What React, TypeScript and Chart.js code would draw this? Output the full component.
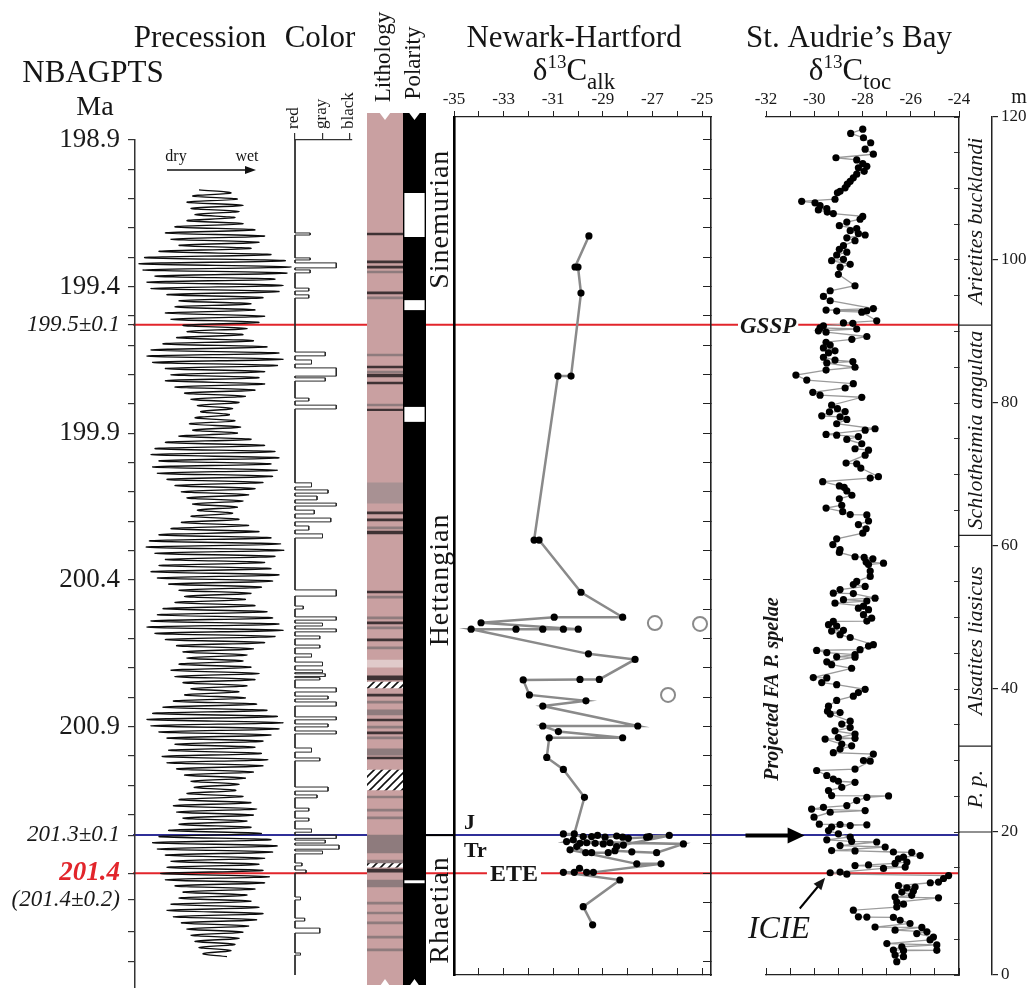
import React, { useEffect, useRef } from "react";
import { Chart, registerables } from "chart.js";

Chart.register(...registerables);

const SERIF = "'Liberation Serif', 'Times New Roman', Times, serif";

/* ============================ DATA ============================ */

// NBAGPTS age axis (Ma)
const maLabelTicks = [198.9, 199.4, 199.9, 200.4, 200.9];
const maMinorTicks = [198.9, 199.0, 199.1, 199.2, 199.3, 199.4, 199.5, 199.6, 199.7, 199.8, 199.9, 200.0, 200.1, 200.2, 200.3, 200.4, 200.5, 200.6, 200.7, 200.8, 200.9, 201.0, 201.1, 201.2, 201.6, 201.7];
const maSpecialTicks = [199.53, 201.27, 201.4, 201.49];
const maSpecialLabels = ["199.5±0.1", "201.3±0.1", "201.4", "(201.4±0.2)"];

// correlation lines (GSSP, J/Tr, ETE)
const boundaryAgeMa = [199.53, 201.27, 201.4];
const boundaryDepthM = [90.9, 19.5, 14.3];
const boundaryColor = ["#e2252b", "#2f2f98", "#e2252b"];

// precession (amplitude per cycle, normalised)
const precessionStartMa = 199.07;
const precessionStepMa = 0.021;
const precessionAmp = [
  0.2, 0.28, 0.35, 0.3, 0.25,
  0.35, 0.5, 0.62, 0.55, 0.45,
  0.7, 0.88, 0.95, 0.9, 0.75,
  0.85, 0.8, 0.6, 0.45, 0.5,
  0.62, 0.55, 0.4, 0.35, 0.48,
  0.65, 0.8, 0.85, 0.78, 0.62,
  0.55, 0.62, 0.5, 0.38, 0.3,
  0.22, 0.18, 0.25, 0.32, 0.28,
  0.45, 0.62, 0.75, 0.8, 0.7,
  0.78, 0.72, 0.6, 0.5, 0.42,
  0.35, 0.28, 0.22, 0.3, 0.42,
  0.55, 0.7, 0.82, 0.86, 0.75,
  0.62, 0.7, 0.8, 0.72, 0.58,
  0.45, 0.38, 0.5, 0.65, 0.72,
  0.8, 0.85, 0.75, 0.62, 0.48,
  0.4, 0.35, 0.45, 0.55, 0.5,
  0.4, 0.3, 0.38, 0.52, 0.65,
  0.78, 0.85, 0.8, 0.7, 0.6,
  0.5, 0.58, 0.66, 0.6, 0.48,
  0.38, 0.3, 0.26, 0.35, 0.45,
  0.52, 0.48, 0.4, 0.45, 0.58,
  0.7, 0.78, 0.72, 0.62, 0.55,
  0.6, 0.68, 0.62, 0.5, 0.4,
  0.45, 0.55, 0.6, 0.52, 0.42,
  0.35, 0.3, 0.25, 0.2, 0.15,
];

// colour index (0 red, 1 gray, 2 black): [topMa, bottomMa, value]
const colorLevels = ["red", "gray", "black"];
const colorPulses = [
  [199.217, 199.224, 0.55], [199.302, 199.309, 0.55], [199.319, 199.336, 1.5], [199.343, 199.353, 0.55],
  [199.405, 199.415, 0.5], [199.428, 199.439, 0.5], [199.623, 199.636, 1.1], [199.65, 199.664, 0.6],
  [199.677, 199.705, 1.5], [199.711, 199.722, 1.1], [199.78, 199.79, 0.5], [199.804, 199.817, 1.5],
  [200.069, 200.083, 0.6], [200.093, 200.104, 1.2], [200.114, 200.127, 0.8], [200.138, 200.148, 1.5],
  [200.162, 200.175, 0.7], [200.189, 200.202, 1.3], [200.216, 200.23, 0.5], [200.243, 200.257, 1.0],
  [200.434, 200.455, 1.5], [200.489, 200.499, 0.3], [200.526, 200.537, 1.5], [200.547, 200.557, 1.0],
  [200.567, 200.577, 1.5], [200.591, 200.601, 0.9], [200.622, 200.632, 0.9], [200.652, 200.663, 0.6],
  [200.68, 200.693, 1.0], [200.707, 200.716, 1.0], [200.72, 200.729, 1.1], [200.733, 200.741, 0.9],
  [200.768, 200.782, 1.5], [200.796, 200.806, 1.2], [200.816, 200.83, 1.5], [200.867, 200.877, 1.5],
  [200.891, 200.901, 1.2], [200.915, 200.925, 1.5], [200.973, 200.987, 0.6], [201.007, 201.017, 0.9],
  [201.106, 201.12, 1.2], [201.133, 201.143, 0.8], [201.178, 201.188, 0.5], [201.212, 201.222, 0.5],
  [201.249, 201.26, 0.6], [201.27, 201.281, 1.5], [201.287, 201.297, 1.1], [201.304, 201.318, 1.6],
  [201.324, 201.334, 1.0], [201.365, 201.375, 0.25], [201.389, 201.399, 0.4], [201.481, 201.491, 0.2],
  [201.553, 201.563, 0.35], [201.587, 201.604, 0.9], [201.672, 201.679, 0.2],
];

// lithology bands: [topMa, bottomMa, type] d=dark, g=gray, m=medium, l=light, h=hatched
const lithologyBands = [
  [199.217, 199.224, "d"], [199.312, 199.319, "d"], [199.33, 199.337, "d"], [199.347, 199.353, "g"],
  [199.418, 199.425, "d"], [199.435, 199.442, "g"], [199.63, 199.636, "g"], [199.671, 199.677, "d"],
  [199.688, 199.694, "g"], [199.698, 199.708, "d"], [199.725, 199.732, "d"], [199.8, 199.807, "g"],
  [199.817, 199.823, "d"], [200.069, 200.138, "m"], [200.1, 200.107, "d"], [200.127, 200.134, "d"],
  [200.168, 200.175, "d"], [200.192, 200.199, "d"], [200.219, 200.226, "g"], [200.233, 200.243, "d"],
  [200.438, 200.444, "d"], [200.455, 200.462, "g"], [200.526, 200.533, "g"], [200.543, 200.55, "d"],
  [200.56, 200.567, "g"], [200.601, 200.608, "d"], [200.628, 200.635, "g"], [200.673, 200.697, "l"],
  [200.727, 200.741, "d"], [200.748, 200.768, "h"], [200.789, 200.796, "d"], [200.813, 200.82, "g"],
  [200.843, 200.86, "g"], [200.874, 200.881, "d"], [200.898, 200.905, "g"], [200.918, 200.925, "d"],
  [200.935, 200.942, "g"], [200.976, 200.997, "g"], [201.004, 201.01, "d"], [201.048, 201.116, "h"],
  [201.137, 201.143, "g"], [201.181, 201.188, "g"], [201.208, 201.215, "g"], [201.27, 201.331, "g"],
  [201.273, 201.28, "d"], [201.29, 201.297, "d"], [201.307, 201.32, "d"], [201.355, 201.365, "g"],
  [201.365, 201.379, "h"], [201.386, 201.396, "d"], [201.423, 201.447, "g"], [201.498, 201.505, "g"],
  [201.532, 201.539, "g"], [201.566, 201.573, "g"], [201.614, 201.621, "g"], [201.658, 201.665, "g"],
];

// polarity: normal (white) intervals within reversed (black) column
const polarityNormal = [
  [199.081, 199.231], [199.446, 199.48], [199.81, 199.861], [201.424, 201.434],
];

// stages
const stageNames = ["Sinemurian", "Hettangian", "Rhaetian"];
const stageAgeMa = [[198.81, 199.53], [199.53, 201.27], [201.27, 201.78]];

// Newark-Hartford d13C alk: [d13C, age Ma]
const nhSeries = [
  [-29.56, 199.227], [-30.12, 199.333], [-30.0, 199.333], [-29.88, 199.422], [-30.28, 199.705],
  [-30.81, 199.705], [-31.77, 200.264], [-31.57, 200.264], [-29.88, 200.442], [-28.2, 200.527],
  [-30.96, 200.527], [-33.91, 200.546], [-29.99, 200.568], [-30.59, 200.568], [-31.42, 200.568],
  [-32.5, 200.568], [-34.31, 200.568], [-29.58, 200.652], [-27.7, 200.671], [-29.14, 200.739],
  [-29.92, 200.739], [-32.21, 200.741], [-31.96, 200.792], [-29.68, 200.812], [-31.42, 200.83],
  [-27.59, 200.898], [-31.42, 200.898], [-30.79, 200.917], [-28.2, 200.938], [-31.16, 200.938],
  [-31.26, 201.005], [-30.59, 201.046], [-29.74, 201.141], [-30.15, 201.266], [-30.59, 201.266],
  [-29.79, 201.275], [-29.45, 201.275], [-29.21, 201.271], [-28.91, 201.277], [-28.44, 201.273],
  [-28.2, 201.277], [-27.97, 201.281], [-27.23, 201.277], [-27.12, 201.275], [-26.32, 201.271],
  [-28.17, 201.304], [-28.44, 201.309], [-28.71, 201.296], [-28.98, 201.3], [-29.31, 201.298],
  [-29.65, 201.296], [-29.92, 201.298], [-30.19, 201.286], [-30.46, 201.292], [-25.75, 201.3],
  [-26.83, 201.33], [-27.83, 201.327], [-28.51, 201.323], [-28.78, 201.33], [-29.45, 201.33],
  [-29.69, 201.33], [-30.05, 201.309], [-30.32, 201.32], [-27.63, 201.368], [-26.65, 201.368],
  [-29.38, 201.397], [-29.65, 201.397], [-29.94, 201.383], [-30.15, 201.397], [-30.59, 201.397],
  [-28.31, 201.423], [-29.79, 201.514], [-29.41, 201.576],
];
const nhOutliers = [[-26.9, 200.547], [-25.08, 200.55], [-26.37, 200.792]];

// St Audrie's Bay d13C toc: [depth m, d13C]
const sabSeries = [
  [118.3, -27.99], [117.7, -28.49], [117.1, -27.96], [116.4, -27.66], [115.5, -27.89], [114.8, -27.55],
  [114.3, -29.1], [114.0, -28.24], [113.5, -27.99], [113.1, -27.82], [112.9, -28.17], [112.4, -27.93],
  [112.0, -28.24], [111.5, -28.38], [111.0, -28.51], [110.6, -28.63], [110.1, -28.72], [109.6, -28.93],
  [109.4, -29.04], [108.5, -29.14], [108.2, -30.52], [108.0, -29.97], [107.6, -29.76], [107.2, -29.48],
  [107.0, -29.83], [106.7, -29.46], [106.5, -29.21], [106.1, -27.99], [105.7, -28.1], [105.3, -28.65],
  [104.8, -28.96], [104.4, -28.24], [104.1, -28.51], [103.7, -28.17], [103.5, -27.89], [103.1, -28.65],
  [102.7, -28.31], [102.0, -28.79], [101.5, -28.96], [101.1, -28.65], [100.7, -29.07], [100.1, -28.79],
  [99.9, -29.28], [99.4, -28.51], [99.0, -28.93], [98.0, -29.0], [96.4, -28.31], [95.7, -29.34],
  [94.9, -29.62], [94.3, -29.34], [93.2, -27.55], [93.0, -29.51], [92.9, -27.82], [92.85, -29.07],
  [92.7, -28.03], [91.5, -27.41], [91.2, -28.79], [91.15, -28.4], [90.8, -29.62], [90.5, -29.76],
  [90.35, -28.24], [90.1, -29.83], [89.9, -29.51], [89.3, -27.82], [88.9, -28.44], [88.5, -29.51],
  [88.1, -29.34], [87.7, -29.62], [87.3, -29.14], [87.0, -29.41], [86.4, -29.62], [86.0, -29.14],
  [85.8, -28.4], [85.6, -29.48], [85.0, -28.31], [84.6, -29.51], [83.9, -30.76], [83.2, -30.31],
  [82.7, -28.38], [82.1, -28.72], [81.5, -30.06], [81.1, -29.76], [80.8, -28.03], [79.7, -29.28],
  [79.2, -29.04], [78.8, -28.72], [78.75, -29.37], [78.2, -29.69], [78.05, -28.93], [77.7, -28.65],
  [77.1, -29.07], [76.4, -27.48], [76.2, -27.89], [75.6, -29.51], [75.5, -29.07], [75.3, -28.17],
  [74.9, -28.65], [74.3, -28.03], [73.6, -28.31], [73.4, -27.75], [72.7, -27.89], [71.6, -28.68],
  [71.5, -28.24], [70.9, -28.07], [69.7, -27.34], [69.5, -27.68], [69.0, -29.65], [68.4, -28.96],
  [68.2, -28.76], [67.7, -28.65], [67.1, -28.44], [66.6, -28.96], [65.7, -28.86], [65.3, -29.51],
  [64.8, -28.82], [64.4, -28.51], [64.35, -27.82], [63.5, -27.75], [63.0, -28.17], [62.4, -27.85],
  [61.8, -27.99], [61.0, -29.07], [60.2, -29.23], [59.5, -28.93], [59.1, -28.96], [58.5, -28.31],
  [58.4, -27.93], [58.2, -27.57], [57.75, -27.85], [57.6, -27.13], [57.4, -27.75], [56.5, -27.68],
  [55.75, -27.68], [55.05, -28.24], [54.6, -28.38], [54.35, -27.89], [53.9, -28.93], [53.4, -29.21],
  [53.35, -28.38], [52.7, -27.48], [52.5, -28.79], [52.3, -27.82], [52.0, -29.14], [51.6, -27.96],
  [51.3, -28.17], [51.1, -27.75], [50.4, -27.96], [49.9, -27.62], [49.5, -27.82], [49.45, -29.21],
  [49.0, -29.41], [48.8, -29.07], [48.2, -28.79], [48.1, -29.28], [47.6, -28.93], [47.2, -28.51],
  [46.2, -27.55], [46.0, -27.75], [45.5, -28.1], [45.4, -29.9], [45.1, -29.48], [44.8, -28.31],
  [44.5, -29.07], [44.45, -28.31], [43.8, -29.48], [43.4, -29.28], [42.9, -28.45], [41.6, -30.04],
  [41.55, -29.48], [40.9, -29.69], [40.6, -29.07], [39.95, -27.89], [39.5, -28.17], [39.0, -28.38],
  [38.4, -29.07], [37.6, -29.41], [36.9, -29.45], [36.7, -28.93], [36.5, -29.34], [35.5, -28.51],
  [35.1, -28.86], [34.6, -28.51], [34.15, -29.14], [33.7, -28.31], [33.2, -29.0], [33.1, -28.31],
  [33.0, -29.55], [32.3, -28.86], [32.05, -28.45], [31.6, -28.93], [31.1, -29.21], [30.9, -27.55],
  [30.0, -27.96], [29.9, -27.68], [28.8, -28.31], [28.6, -29.9], [27.9, -29.48], [27.4, -29.21],
  [27.1, -29.0], [26.95, -28.31], [26.25, -28.86], [25.8, -29.41], [25.1, -29.28], [25.05, -26.92],
  [24.85, -27.82], [24.4, -28.24], [23.7, -28.65], [23.45, -29.62], [23.2, -30.11], [23.0, -27.89],
  [22.76, -29.34], [22.07, -30.01], [21.1, -29.79], [21.05, -28.93], [21.0, -27.82], [20.9, -28.51],
  [20.7, -29.28], [20.2, -29.41], [19.75, -29.0], [19.3, -28.51], [18.9, -29.48], [18.7, -28.45],
  [18.6, -27.41], [18.1, -28.93], [17.9, -27.06], [17.4, -29.28], [17.35, -28.31], [17.2, -26.72],
  [17.15, -25.96], [16.7, -25.61], [16.5, -26.3], [16.26, -26.51], [15.8, -26.16], [15.6, -26.65],
  [15.4, -27.75], [15.3, -28.31], [15.1, -26.23], [14.9, -27.13], [14.4, -28.93], [14.3, -29.34],
  [14.1, -28.65], [13.9, -24.43], [13.5, -24.64], [13.0, -24.85], [12.9, -25.19], [12.5, -26.51],
  [12.3, -25.82], [12.2, -26.16], [11.75, -25.89], [11.6, -26.37], [11.15, -25.96], [10.9, -26.65],
  [10.8, -24.85], [10.2, -26.58], [9.9, -26.3], [9.5, -26.58], [9.06, -28.38], [8.13, -28.17],
  [8.1, -27.82], [8.05, -26.72], [7.66, -26.44], [7.2, -26.03], [6.7, -27.48], [6.65, -25.54],
  [6.27, -26.65], [6.04, -25.33], [5.8, -25.75], [5.3, -25.06], [4.9, -25.2], [4.4, -26.99],
  [4.2, -24.92], [3.95, -26.37], [3.5, -26.72], [3.45, -24.92], [3.4, -26.3], [2.8, -26.65],
  [2.56, -26.3], [1.86, -26.58],
];

// ammonite zones (St Audrie's Bay, m)
const zoneNames = ["Arietites bucklandi", "Schlotheimia angulata", "Alsatites liasicus", "P. p."];
const zoneDepthM = [[90.9, 120], [61.5, 90.9], [32, 61.5], [20, 32]];

/* ============================ LAYOUT ============================ */

const W = 1033;
const H = 988;
const MA0 = 198.9;
const Y_MA0 = 140;
const PX_PER_MA = 293.3;
const maAt = (y: number) => MA0 + (y - Y_MA0) / PX_PER_MA;
const LINE_X0 = 133;
const LINE_X1 = 959;
const NH_PX_PER_UNIT = 24.8;

const LITH_PINK = "#c9a0a1";
const lithColors: any = { d: "#3e3234", g: "#8e7b7d", m: "#a89193", l: "#e0caca" };

const fixed = (size: number) => (s: any) => {
  if (s.isHorizontal()) s.height = size;
  else s.width = size;
  s.paddingLeft = 0;
  s.paddingRight = 0;
  s.paddingTop = 0;
  s.paddingBottom = 0;
};

const baseOptions = (scales: any, padding: any) => ({
  responsive: false,
  maintainAspectRatio: false,
  animation: false,
  events: [],
  layout: { autoPadding: false, padding },
  plugins: { legend: { display: false }, tooltip: { enabled: false } },
  scales,
});

const hiddenLinear = (min: number, max: number, reverse = false, axis = "") => {
  const o: any = { type: "linear", display: false, min, max, reverse };
  if (axis) o.axis = axis;
  return o;
};

const rangeTicks = (a: number, b: number, step: number) => {
  const out: number[] = [];
  const n = Math.round((b - a) / step);
  for (let i = 0; i <= n; i++) out.push(+(a + i * step).toFixed(4));
  return out;
};

function fontStr(size: number, style = "", weight = "") {
  return [style, weight, size + "px", SERIF].filter(Boolean).join(" ");
}
function txt(ctx: any, s: string, x: number, y: number, size: number, align = "left", style = "", weight = "", color = "#151515") {
  ctx.font = fontStr(size, style, weight);
  ctx.textAlign = align;
  ctx.textBaseline = "alphabetic";
  ctx.fillStyle = color;
  ctx.fillText(s, x, y);
}
function vtxt(ctx: any, s: string, cx: number, cy: number, size: number, style = "", weight = "", spacing = 0) {
  ctx.save();
  ctx.translate(cx, cy);
  ctx.rotate(-Math.PI / 2);
  ctx.font = fontStr(size, style, weight);
  if (spacing && "letterSpacing" in ctx) ctx.letterSpacing = spacing + "px";
  ctx.textAlign = "center";
  ctx.textBaseline = "middle";
  ctx.fillStyle = "#151515";
  ctx.fillText(s, 0, 0);
  ctx.restore();
}
function arrowHead(ctx: any, x0: number, y0: number, x1: number, y1: number, len: number, half: number) {
  const a = Math.atan2(y1 - y0, x1 - x0);
  ctx.beginPath();
  ctx.moveTo(x1, y1);
  ctx.lineTo(x1 - len * Math.cos(a) + half * Math.sin(a), y1 - len * Math.sin(a) - half * Math.cos(a));
  ctx.lineTo(x1 - len * Math.cos(a) - half * Math.sin(a), y1 - len * Math.sin(a) + half * Math.cos(a));
  ctx.closePath();
  ctx.fill();
}
function drawDelta(ctx: any, sub: string, cx: number, base: number) {
  const big = fontStr(31), sup = fontStr(19), sm = fontStr(23);
  ctx.font = big; const wd = ctx.measureText("δ").width; const wc = ctx.measureText("C").width;
  ctx.font = sup; const w13 = ctx.measureText("13").width;
  ctx.font = sm; const ws = ctx.measureText(sub).width;
  let x = cx - (wd + w13 + wc + ws) / 2;
  ctx.textAlign = "left"; ctx.fillStyle = "#151515"; ctx.textBaseline = "alphabetic";
  ctx.font = big; ctx.fillText("δ", x, base); x += wd;
  ctx.font = sup; ctx.fillText("13", x, base - 12); x += w13;
  ctx.font = big; ctx.fillText("C", x, base); x += wc;
  ctx.font = sm; ctx.fillText(sub, x, base + 9);
}

/* ============================ PLUGINS ============================ */

const headerPlugin = {
  id: "headers",
  afterDraw(chart: any) {
    const c = chart.ctx;
    c.save();
    txt(c, "Precession", 200, 47, 31, "center");
    txt(c, "Color", 320, 47, 31, "center");
    txt(c, "NBAGPTS", 93, 82, 31, "center");
    txt(c, "Ma", 95, 115, 28, "center");
    vtxt(c, "Lithology", 384, 57, 23);
    vtxt(c, "Polarity", 414, 63, 23);
    txt(c, "Newark-Hartford", 574, 47, 31, "center");
    drawDelta(c, "alk", 574, 80);
    txt(c, "St. Audrie’s Bay", 849, 47, 31, "center");
    drawDelta(c, "toc", 850, 80);
    txt(c, "m", 1019, 103, 20, "center");
    txt(c, "dry", 176, 161, 16, "center");
    txt(c, "wet", 247, 161, 16, "center");
    c.strokeStyle = "#111"; c.fillStyle = "#111"; c.lineWidth = 1.3;
    c.beginPath(); c.moveTo(167, 170); c.lineTo(248, 170); c.stroke();
    arrowHead(c, 167, 170, 256, 170, 11, 4);
    c.restore();
  },
};

const notchPlugin = {
  id: "notch",
  afterDraw(chart: any) {
    const { ctx, chartArea: a } = chart;
    const cx = (a.left + a.right) / 2;
    ctx.save();
    ctx.fillStyle = "#ffffff";
    ctx.beginPath(); ctx.moveTo(cx - 6, a.top - 1); ctx.lineTo(cx + 6, a.top - 1); ctx.lineTo(cx, a.top + 7); ctx.closePath(); ctx.fill();
    ctx.beginPath(); ctx.moveTo(cx - 5, a.bottom + 1); ctx.lineTo(cx + 5, a.bottom + 1); ctx.lineTo(cx, a.bottom - 6); ctx.closePath(); ctx.fill();
    ctx.restore();
  },
};

const stagePlugin = {
  id: "stages",
  afterDraw(chart: any) {
    const { ctx, chartArea: a, scales } = chart;
    const y = scales.y;
    ctx.save();
    stageAgeMa.forEach(([t, b], i) => {
      const cy = (y.getPixelForValue(t) + y.getPixelForValue(b)) / 2;
      vtxt(ctx, stageNames[i], (a.left + a.right) / 2 + 1, cy, 28, "", "", 1);
    });
    const yb = y.getPixelForValue(boundaryAgeMa[1]);
    ctx.strokeStyle = "#000"; ctx.lineWidth = 2;
    ctx.beginPath(); ctx.moveTo(a.left, yb); ctx.lineTo(a.right + 2, yb); ctx.stroke();
    ctx.restore();
  },
};

const nhPlugin = {
  id: "nhLabels",
  afterDraw(chart: any) {
    const { ctx, chartArea: a, scales } = chart;
    const y = scales.y, x = scales.x;
    const yJ = y.getPixelForValue(boundaryAgeMa[1]);
    const yE = y.getPixelForValue(boundaryAgeMa[2]);
    ctx.save();
    txt(ctx, "J", a.left + 10, yJ - 6, 22, "left", "", "bold");
    txt(ctx, "Tr", a.left + 10, yJ + 22, 22, "left", "", "bold");
    ctx.font = fontStr(24, "", "bold");
    const w = ctx.measureText("ETE").width;
    const ex = x.getPixelForValue(-33.55);
    ctx.fillStyle = "#fff";
    ctx.fillRect(ex - 3, yE - 9, w + 6, 18);
    txt(ctx, "ETE", ex, yE + 8, 24, "left", "", "bold");
    ctx.restore();
  },
};

const sabPlugin = {
  id: "sabLabels",
  afterDraw(chart: any) {
    const { ctx, chartArea: a, scales } = chart;
    const m = scales.m, x = scales.x;
    const zx0 = a.right, zx1 = m.left;
    ctx.save();
    ctx.strokeStyle = "#222"; ctx.lineWidth = 1.2;
    zoneDepthM.forEach(([lo, hi], i) => {
      const y0 = m.getPixelForValue(hi), y1 = m.getPixelForValue(lo);
      ctx.beginPath(); ctx.moveTo(zx0, y1); ctx.lineTo(zx1, y1); ctx.stroke();
      vtxt(ctx, zoneNames[i], (zx0 + zx1) / 2 + 1, (y0 + y1) / 2, 22, "italic");
    });
    // GSSP label
    const yG = m.getPixelForValue(boundaryDepthM[0]);
    ctx.font = fontStr(23, "italic", "bold");
    const wG = ctx.measureText("GSSP").width;
    const gx = a.left - 26;
    ctx.fillStyle = "#fff";
    ctx.fillRect(gx - 2, yG - 11, wG + 4, 22);
    txt(ctx, "GSSP", gx, yG + 8, 23, "left", "italic", "bold");
    // Projected FA P. spelae
    vtxt(ctx, "Projected FA P. spelae", x.getPixelForValue(-31.72), m.getPixelForValue(40), 20, "italic", "bold");
    const yJ = m.getPixelForValue(boundaryDepthM[1]);
    const ax0 = x.getPixelForValue(-32.85), ax1 = x.getPixelForValue(-30.4);
    ctx.strokeStyle = "#000"; ctx.fillStyle = "#000"; ctx.lineWidth = 4;
    ctx.beginPath(); ctx.moveTo(ax0, yJ); ctx.lineTo(ax1 - 12, yJ); ctx.stroke();
    arrowHead(ctx, ax0, yJ, ax1, yJ, 17, 8);
    // ICIE
    txt(ctx, "ICIE", x.getPixelForValue(-32.75), m.getPixelForValue(5.2), 32, "left", "italic");
    const ix0 = x.getPixelForValue(-30.6), iy0 = m.getPixelForValue(9.3);
    const ix1 = x.getPixelForValue(-29.55), iy1 = m.getPixelForValue(13.6);
    ctx.lineWidth = 2;
    ctx.beginPath(); ctx.moveTo(ix0, iy0); ctx.lineTo(ix1 - 4, iy1 + 5); ctx.stroke();
    arrowHead(ctx, ix0, iy0, ix1, iy1, 12, 5);
    ctx.restore();
  },
};

/* ============================ TICK HELPERS ============================ */

const maAllTicks = maMinorTicks.concat(maSpecialTicks).sort((p, q) => p - q);
const specialIdx = (v: number) => maSpecialTicks.findIndex((s) => Math.abs(s - v) < 1e-6);
const maTickLabel = (v: any) => {
  const i = specialIdx(v);
  if (i >= 0) return maSpecialLabels[i];
  return maLabelTicks.some((t) => Math.abs(t - v) < 1e-6) ? Number(v).toFixed(1) : "";
};
const maTickFont = (c: any) => {
  const v = c && c.tick ? c.tick.value : 0;
  const i = specialIdx(v);
  if (i === 2) return { family: SERIF, size: 27, style: "italic", weight: "bold" };
  if (i >= 0) return { family: SERIF, size: 23, style: "italic" };
  return { family: SERIF, size: 27 };
};
const maTickColor = (c: any) => (c && c.tick && specialIdx(c.tick.value) === 2 ? "#e2252b" : "#1a1a1a");

const setTicks = (vals: number[]) => (s: any) => {
  s.ticks = vals.filter((v) => v >= Math.min(s.min, s.max) - 1e-9 && v <= Math.max(s.min, s.max) + 1e-9).map((v) => ({ value: v }));
};

/* ============================ CHART CONFIGS ============================ */

function bgConfig() {
  return {
    type: "scatter",
    data: {
      datasets: boundaryAgeMa.map((age, i) => ({
        data: [{ x: LINE_X0, y: age }, { x: LINE_X1, y: age }],
        showLine: true, borderColor: boundaryColor[i], borderWidth: 2, pointRadius: 0,
      })),
    },
    options: baseOptions({ x: hiddenLinear(0, W, false, "x"), y: hiddenLinear(maAt(0), maAt(H), true, "y") }, 0),
    plugins: [headerPlugin],
  };
}

function precessionConfig() {
  const pts: any[] = [];
  precessionAmp.forEach((amp, i) => {
    const t = precessionStartMa + i * precessionStepMa;
    pts.push({ x: -amp, y: t });
    pts.push({ x: amp, y: t + precessionStepMa / 2 });
  });
  return {
    type: "scatter",
    data: { datasets: [{ data: pts, showLine: true, borderColor: "#0d0d0d", borderWidth: 1.35, pointRadius: 0, tension: 0.35 }] },
    options: baseOptions({
      x: hiddenLinear(-1, 1, false, "x"),
      y: {
        type: "linear", axis: "y", position: "left", reverse: true, min: 198.9, max: maAt(988),
        afterFit: fixed(135),
        afterBuildTicks: setTicks(maAllTicks),
        ticks: { autoSkip: false, padding: 8, callback: maTickLabel, font: maTickFont, color: maTickColor },
        grid: { drawOnChartArea: false, tickLength: 7, color: "#333", lineWidth: 1.2 },
        border: { color: "#333", width: 1.5 },
      },
    }, { top: 20, left: 0, right: 0, bottom: 0 }),
  };
}

function colorConfig() {
  const pts: any[] = [{ x: 0, y: 198.9 }];
  colorPulses.forEach(([t, b, v]) => {
    pts.push({ x: 0, y: t }, { x: v, y: t }, { x: v, y: b }, { x: 0, y: b });
  });
  pts.push({ x: 0, y: maAt(975) });
  return {
    type: "scatter",
    data: { datasets: [{ data: pts, showLine: true, borderColor: "#2a2a2a", borderWidth: 1, pointRadius: 0, clip: 4 }] },
    options: baseOptions({
      x: {
        type: "linear", axis: "x", position: "top", min: 0, max: 57 / 27.5,
        afterFit: fixed(70),
        afterBuildTicks: setTicks([0, 1, 2]),
        ticks: { autoSkip: false, minRotation: 90, maxRotation: 90, padding: 4, labelOffset: 19, font: { family: SERIF, size: 17 }, color: "#1a1a1a", callback: (v: any) => colorLevels[Math.round(v)] },
        grid: { drawOnChartArea: false, tickLength: 7, color: "#333", lineWidth: 1.2 },
        border: { color: "#333", width: 1.2 },
      },
      y: hiddenLinear(198.9, maAt(975), true, "y"),
    }, { top: 0, left: 14, right: 8, bottom: 3 }),
  };
}

function columnOptions(top: number, bottom: number) {
  const o: any = baseOptions({ x: { type: "category", display: false }, y: hiddenLinear(maAt(top), maAt(bottom), true, "y") }, 0);
  o.datasets = { bar: { grouped: false, barPercentage: 1, categoryPercentage: 1, borderWidth: 0 } };
  return o;
}

// Chart.js paints dataset 0 last (on top); the base column goes at the end so bands appear over it.
function lithologyConfig(hatch: any) {
  return {
    type: "bar",
    data: {
      labels: [""],
      datasets: [
        ...lithologyBands.map(([t, b, k]: any) => ({ data: [[t, b]], backgroundColor: k === "h" ? hatch : lithColors[k] })),
        { data: [[maAt(113), maAt(985)]], backgroundColor: LITH_PINK },
      ],
    },
    options: columnOptions(113, 985),
    plugins: [notchPlugin],
  };
}

function polarityConfig() {
  return {
    type: "bar",
    data: {
      labels: [""],
      datasets: [
        ...polarityNormal.map(([t, b]) => ({ data: [[t, b]], backgroundColor: "#fff", barPercentage: 0.88 })),
        { data: [[maAt(113), maAt(985)]], backgroundColor: "#000" },
      ],
    },
    options: columnOptions(113, 985),
    plugins: [notchPlugin],
  };
}

function stageConfig() {
  return {
    type: "bar",
    data: {
      labels: [""],
      datasets: stageAgeMa.map(([t, b]) => ({ data: [[t, b]], backgroundColor: "rgba(0,0,0,0)" })),
    },
    options: columnOptions(113, 985),
    plugins: [stagePlugin],
  };
}

function newarkConfig() {
  const yMin = maAt(117), yMax = maAt(975);
  const xMax = -35 + 257 / NH_PX_PER_UNIT;
  const xTicks = rangeTicks(-35, -25, 1);
  return {
    type: "scatter",
    data: {
      datasets: [
        {
          data: nhSeries.map(([d, t]) => ({ x: d, y: t })), showLine: true,
          borderColor: "#8a8a8a", borderWidth: 2.5, pointRadius: 3.6, pointBackgroundColor: "#000", pointBorderWidth: 0,
        },
        {
          data: nhOutliers.map(([d, t]) => ({ x: d, y: t })), showLine: false,
          pointRadius: 7, pointBackgroundColor: "rgba(0,0,0,0)", pointBorderColor: "#8a8a8a", pointBorderWidth: 2,
        },
      ],
    },
    options: baseOptions({
      x: {
        type: "linear", axis: "x", position: "top", min: -35, max: xMax, afterFit: fixed(40),
        afterBuildTicks: setTicks(xTicks),
        ticks: { autoSkip: false, maxRotation: 0, padding: 1, font: { family: SERIF, size: 17 }, color: "#1a1a1a", callback: (v: any) => (Math.round(v) % 2 !== 0 ? String(v) : "") },
        grid: { drawOnChartArea: false, tickLength: 6, color: "#222", lineWidth: 1 },
        border: { color: "#222", width: 1.2 },
      },
      x2: {
        type: "linear", axis: "x", position: "bottom", min: -35, max: xMax, afterFit: fixed(2),
        afterBuildTicks: setTicks(xTicks),
        ticks: { display: false },
        grid: { drawOnChartArea: false, tickLength: -7, color: "#222", lineWidth: 1 },
        border: { color: "#222", width: 1.2 },
      },
      y: {
        type: "linear", axis: "y", position: "left", reverse: true, min: yMin, max: yMax, afterFit: fixed(2),
        ticks: { display: false }, grid: { display: false },
        border: { color: "#000", width: 2.6 },
      },
      yR: {
        type: "linear", axis: "y", position: "right", reverse: true, min: yMin, max: yMax, afterFit: fixed(4),
        afterBuildTicks: setTicks(rangeTicks(198.9, 201.7, 0.1)),
        ticks: { display: false },
        grid: { drawOnChartArea: false, tickLength: -8, color: "#222", lineWidth: 1 },
        border: { color: "#222", width: 1.6 },
      },
    }, { top: 0, left: 12, right: 0, bottom: 6 }),
    plugins: [nhPlugin],
  };
}

function sabConfig() {
  const xTicks = rangeTicks(-32, -24, 1);
  return {
    type: "scatter",
    data: {
      datasets: [
        {
          data: sabSeries.map(([mm, d]) => ({ x: d, y: mm })), yAxisID: "m", showLine: true,
          borderColor: "#9a9a9a", borderWidth: 1.3, pointRadius: 3.6, pointBackgroundColor: "#000", pointBorderWidth: 0,
        },
      ],
    },
    options: baseOptions({
      x: {
        type: "linear", axis: "x", position: "top", min: -32, max: -24, afterFit: fixed(37),
        afterBuildTicks: setTicks(xTicks),
        ticks: { autoSkip: false, maxRotation: 0, padding: 1, font: { family: SERIF, size: 17 }, color: "#1a1a1a", callback: (v: any) => (Math.round(v) % 2 === 0 ? String(v) : "") },
        grid: { drawOnChartArea: false, tickLength: 6, color: "#222", lineWidth: 1 },
        border: { color: "#222", width: 1.2 },
      },
      x2: {
        type: "linear", axis: "x", position: "bottom", min: -32, max: -24, afterFit: fixed(2),
        afterBuildTicks: setTicks(xTicks),
        ticks: { display: false },
        grid: { drawOnChartArea: false, tickLength: -7, color: "#222", lineWidth: 1 },
        border: { color: "#222", width: 1.2 },
      },
      yIn: {
        type: "linear", axis: "y", position: "right", weight: 0, min: 0, max: 120, afterFit: fixed(33),
        afterBuildTicks: setTicks(rangeTicks(0, 120, 5)),
        ticks: { display: false },
        grid: { drawOnChartArea: false, tickLength: -5, color: "#333", lineWidth: 1 },
        border: { color: "#222", width: 1.5 },
      },
      m: {
        type: "linear", axis: "y", position: "right", weight: 1, min: 0, max: 120, afterFit: fixed(41),
        afterBuildTicks: setTicks(rangeTicks(0, 120, 20)),
        ticks: { autoSkip: false, padding: 3, font: { family: SERIF, size: 17 }, color: "#1a1a1a", callback: (v: any) => String(Math.round(v)) },
        grid: { drawOnChartArea: false, tickLength: 6, color: "#222", lineWidth: 1.2 },
        border: { color: "#222", width: 1.5 },
      },
    }, { top: 0, left: 32, right: 0, bottom: 6 }),
    plugins: [sabPlugin],
  };
}

/* ============================ PANELS ============================ */

const PANELS = [
  { x: 0, y: 0, w: W, h: H, make: () => bgConfig() },
  { x: 0, y: 120, w: 295, h: 868, make: () => precessionConfig() },
  { x: 281, y: 70, w: 79, h: 908, make: () => colorConfig() },
  { x: 367, y: 113, w: 36, h: 872, make: (hatch: any) => lithologyConfig(hatch) },
  { x: 403, y: 113, w: 23, h: 872, make: () => polarityConfig() },
  { x: 426, y: 113, w: 27, h: 872, make: () => stageConfig() },
  { x: 440, y: 77, w: 275, h: 906, make: () => newarkConfig() },
  { x: 734, y: 80, w: 299, h: 903, make: () => sabConfig() },
];

export default function App() {
  const refs = useRef<(HTMLCanvasElement | null)[]>([]);

  useEffect(() => {
    const pc = document.createElement("canvas");
    pc.width = 8; pc.height = 8;
    const p = pc.getContext("2d") as CanvasRenderingContext2D;
    p.fillStyle = "#ffffff"; p.fillRect(0, 0, 8, 8);
    p.strokeStyle = "#111"; p.lineWidth = 1.6;
    p.beginPath();
    p.moveTo(-1, 9); p.lineTo(9, -1);
    p.moveTo(-3, 3); p.lineTo(3, -3);
    p.moveTo(5, 11); p.lineTo(11, 5);
    p.stroke();
    const probe = refs.current[3] ? (refs.current[3] as HTMLCanvasElement).getContext("2d") : null;
    const hatch = probe ? probe.createPattern(pc, "repeat") : "#ffffff";

    const charts = PANELS.map((panel, i) => new Chart(refs.current[i] as HTMLCanvasElement, panel.make(hatch) as any));
    return () => charts.forEach((c) => c.destroy());
  }, []);

  return (
    <div style={{ position: "absolute", left: 0, top: 0, width: W, height: H, background: "#ffffff", overflow: "hidden" }}>
      {PANELS.map((panel, i) => (
        <canvas
          key={i}
          ref={(el) => { refs.current[i] = el; }}
          width={panel.w}
          height={panel.h}
          style={{ position: "absolute", left: panel.x, top: panel.y, width: panel.w, height: panel.h }}
        />
      ))}
    </div>
  );
}
